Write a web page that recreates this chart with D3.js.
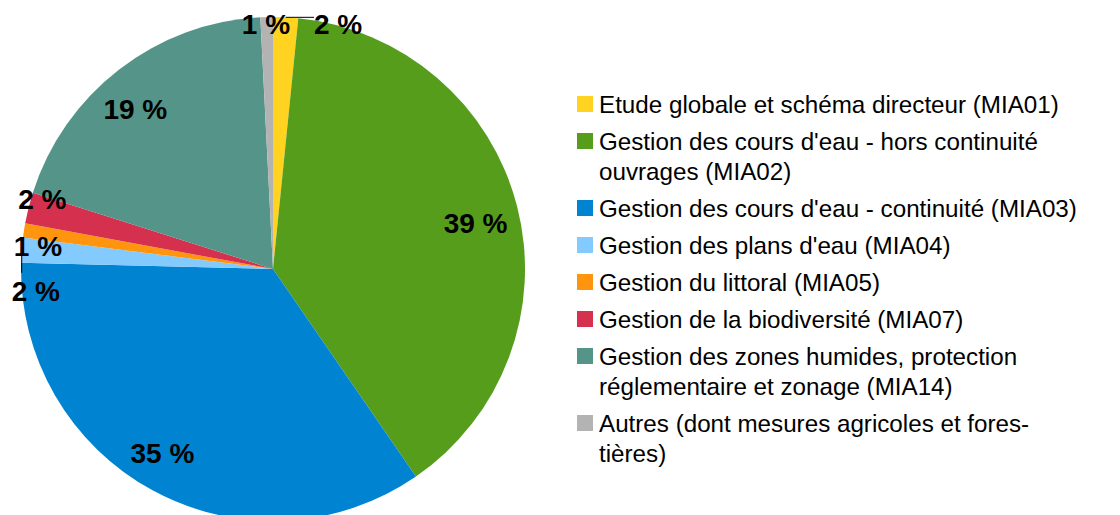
<!DOCTYPE html>
<html>
<head>
<meta charset="utf-8">
<script src="https://cdn.jsdelivr.net/npm/d3@7"></script>
<style>
  html, body { margin: 0; padding: 0; background: #fff; }
  svg { display: block; font-family: "Liberation Sans", Arial, sans-serif; }
</style>
</head>
<body>
<svg id="chart" width="1120" height="515"></svg>
<script>
// shares (%), clockwise from 12 o'clock
const codes  = ['MIA01', 'MIA02', 'MIA03', 'MIA04', 'MIA05', 'MIA07', 'MIA14', 'AUTRES'];
const shares = [1.6, 38.8, 35.0, 1.6, 0.9, 2.0, 19.3, 0.8];
const legendLabels = [
  ['Etude globale et schéma directeur (MIA01)'],
  ["Gestion des cours d'eau - hors continuité", 'ouvrages (MIA02)'],
  ["Gestion des cours d'eau - continuité (MIA03)"],
  ["Gestion des plans d'eau (MIA04)"],
  ['Gestion du littoral (MIA05)'],
  ['Gestion de la biodiversité (MIA07)'],
  ['Gestion des zones humides, protection', 'réglementaire et zonage (MIA14)'],
  ['Autres (dont mesures agricoles et fores-', 'tières)']
];
const colors = ['#ffd320', '#579d1c', '#0084d1', '#83caff', '#ff950e', '#d6304f', '#559589', '#b3b3b3'];

// labels were shifted a little in the original (offsets from the arc anchor)
const labelNudge = { 0: [53, -3], 1: [0, 6], 2: [-11, 0], 3: [4, 40], 4: [4, 14], 5: [4, -11], 6: [-10, 6], 7: [-1, -3] };

const data = codes.map((c, i) => ({ code: c, value: shares[i], lines: legendLabels[i], color: colors[i], i }));

const svg = d3.select('#chart');
const cx = 273, cy = 269, R = 252;

const pie = d3.pie().sort(null).value(d => d.value);
const arcs = pie(data);
const arc = d3.arc().innerRadius(0).outerRadius(R);

const g = svg.append('g').attr('transform', `translate(${cx},${cy})`);

g.selectAll('path.slice').data(arcs).join('path')
  .attr('class', 'slice')
  .attr('d', arc)
  .attr('fill', d => d.data.color);

// labels
const fmt = v => `${Math.round(v)} %`;
const inner = d3.arc().innerRadius(R * 0.83).outerRadius(R * 0.83);
const outer = d3.arc().innerRadius(R * 0.96).outerRadius(R * 0.96);
const edge  = d3.arc().innerRadius(R).outerRadius(R);
const labelH = 22;

arcs.forEach(a => {
  const big = a.data.value >= 5;
  let [x, y] = (big ? inner : outer).centroid(a);
  const nudge = labelNudge[a.data.i] || [0, 0];
  x += nudge[0]; y += nudge[1];
  const t = g.append('text')
    .attr('x', x).attr('y', y).attr('dy', '0.35em')
    .attr('text-anchor', 'middle')
    .attr('font-size', 28).attr('font-weight', 'bold').attr('fill', '#000')
    .text(fmt(a.data.value));

  // leader line when a small label was moved far from its slice
  if (!big && (Math.abs(nudge[0]) > 20 || Math.abs(nudge[1]) > 20)) {
    const [ex, ey] = edge.centroid(a);
    const w = t.node().getComputedTextLength();
    const end = Math.abs(nudge[0]) > Math.abs(nudge[1])
      ? [x - w / 2, ey]
      : [ex, y - labelH / 2 - 7];
    g.append('line')
      .attr('x1', ex).attr('y1', ey).attr('x2', end[0]).attr('y2', end[1])
      .attr('stroke', '#000').attr('stroke-width', 1);
  }
});

// legend
const lg = svg.append('g').attr('transform', 'translate(577,96)');
const sq = 16, itemGap = 37, lineH = 30;
let yy = 0;
data.forEach(d => {
  const item = lg.append('g').attr('transform', `translate(0,${yy})`);
  item.append('rect').attr('width', sq).attr('height', sq).attr('fill', d.color);
  d.lines.forEach((ln, k) => {
    item.append('text')
      .attr('x', 22).attr('y', sq + 1 + k * lineH)
      .attr('font-size', 24.2).attr('fill', '#000')
      .text(ln);
  });
  yy += itemGap + (d.lines.length - 1) * lineH;
});
</script>
</body>
</html>
